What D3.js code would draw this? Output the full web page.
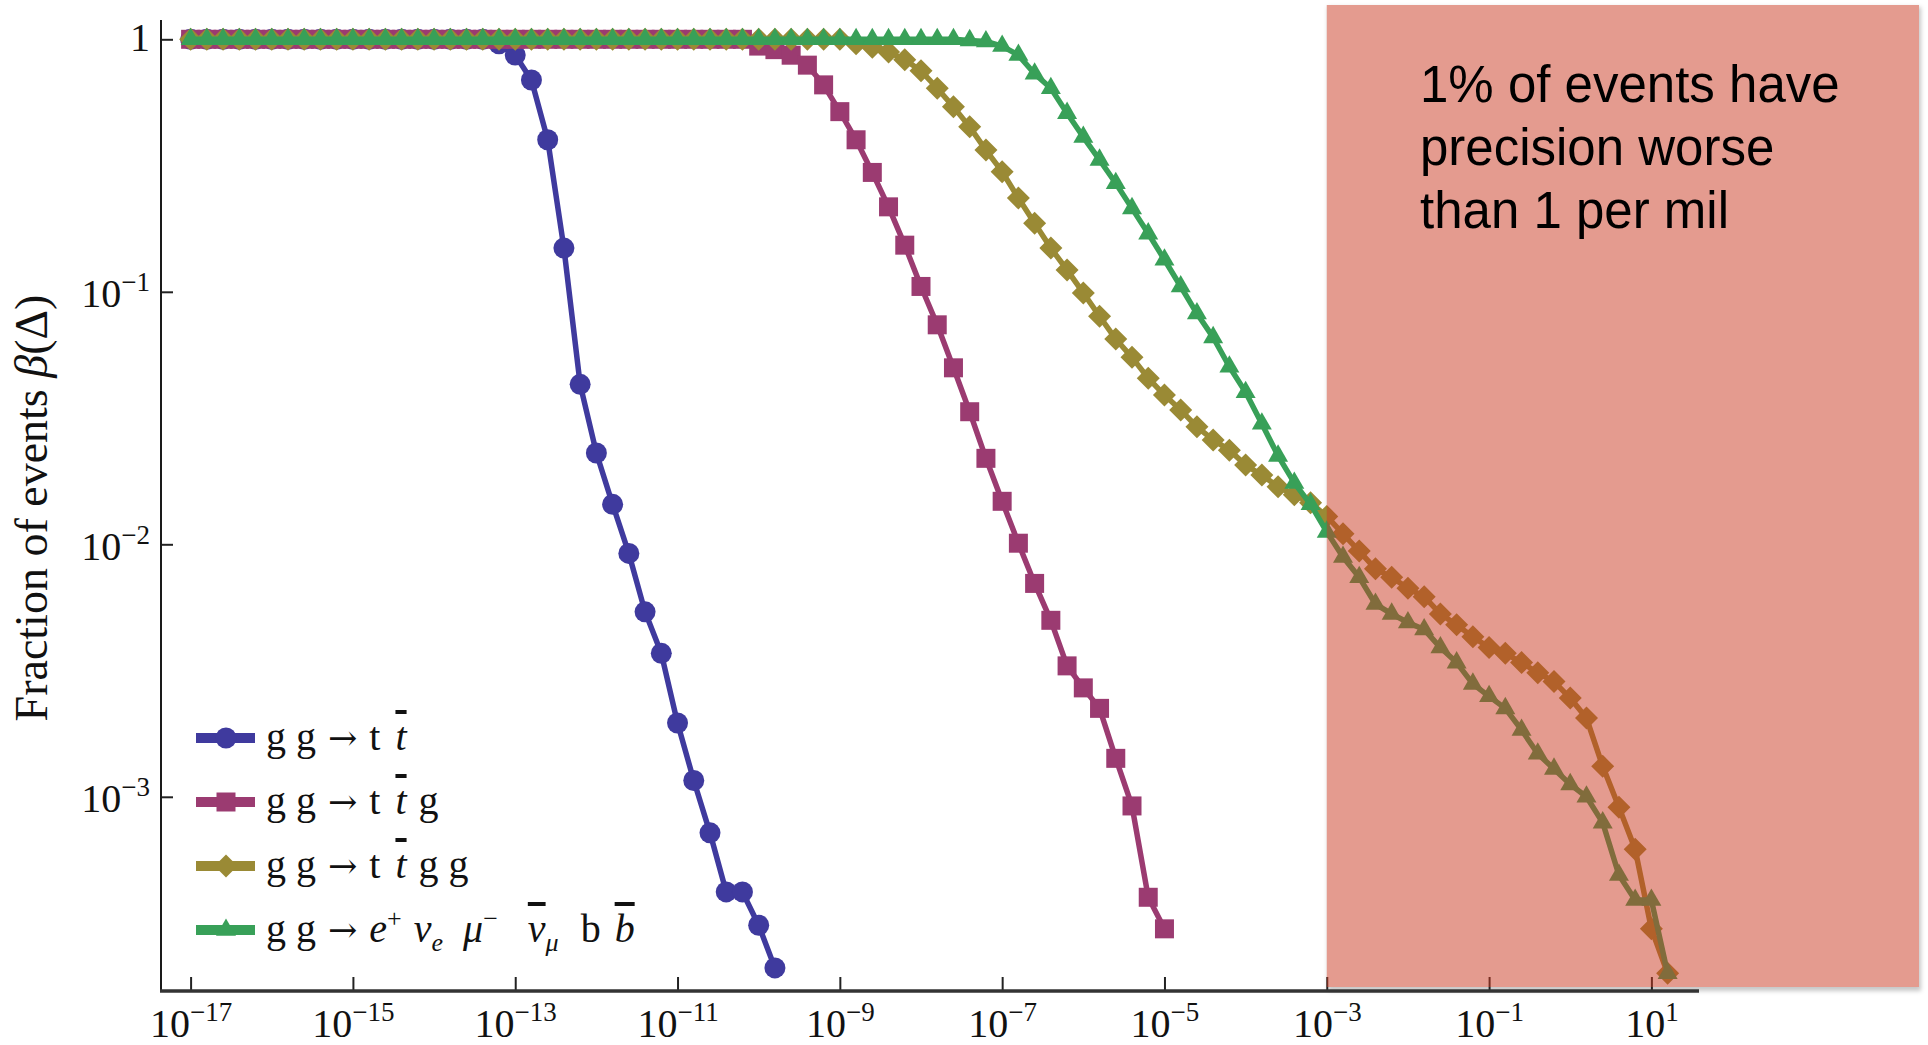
<!DOCTYPE html>
<html>
<head>
<meta charset="utf-8">
<script src="https://cdn.jsdelivr.net/npm/d3@7"></script>
<style>
  html, body { margin: 0; padding: 0; background: #ffffff; }
  svg { display: block; }
  text { white-space: pre; }
</style>
</head>
<body>
<svg id="chart" width="1928" height="1045"></svg>
<script>
// Precision bins: log10 of the relative precision Δ (one bin every 0.2 decades)
const binExponents = [
  -17.0,-16.8,-16.6,-16.4,-16.2,-16.0,-15.8,-15.6,-15.4,-15.2,
  -15.0,-14.8,-14.6,-14.4,-14.2,-14.0,-13.8,-13.6,-13.4,-13.2,
  -13.0,-12.8,-12.6,-12.4,-12.2,-12.0,-11.8,-11.6,-11.4,-11.2,
  -11.0,-10.8,-10.6,-10.4,-10.2,-10.0,-9.8,-9.6,-9.4,-9.2,
  -9.0,-8.8,-8.6,-8.4,-8.2,-8.0,-7.8,-7.6,-7.4,-7.2,
  -7.0,-6.8,-6.6,-6.4,-6.2,-6.0,-5.8,-5.6,-5.4,-5.2,
  -5.0,-4.8,-4.6,-4.4,-4.2,-4.0,-3.8,-3.6,-3.4,-3.2,
  -3.0,-2.8,-2.6,-2.4,-2.2,-2.0,-1.8,-1.6,-1.4,-1.2,
  -1.0,-0.8,-0.6,-0.4,-0.2,0.0,0.2,0.4,0.6,0.8,
  1.0,1.2
];

// Fraction of events β(Δ) with precision worse than Δ, per process
const fracTTbar = [
  1,1,1,1,1,1,1,1,1,1,
  1,1,1,1,1,1,1,1,1,0.96,
  0.866,0.69,0.40,0.149,0.043,0.023,0.0144,0.0092,0.0054,0.0037,
  0.00196,0.00116,0.00072,0.00042,0.00042,0.00031,0.00021
];
const fracTTbarG = [
  1,1,1,1,1,1,1,1,1,1,
  1,1,1,1,1,1,1,1,1,1,
  1,1,1,1,1,1,1,1,1,1,
  1,1,1,1,1,0.94,0.91,0.865,0.79,0.66,
  0.517,0.40,0.297,0.217,0.153,0.105,0.074,0.050,0.0335,0.0219,
  0.0148,0.0101,0.0070,0.0050,0.0033,0.0027,0.00224,0.00142,0.00092,0.00040,
  0.00030
];
const fracTTbarGG = [
  1,1,1,1,1,1,1,1,1,1,
  1,1,1,1,1,1,1,1,1,1,
  1,1,1,1,1,1,1,1,1,1,
  1,1,1,1,1,1,1,1,1,1,
  1,0.96,0.93,0.89,0.83,0.75,0.64,0.54,0.45,0.364,
  0.299,0.235,0.187,0.149,0.122,0.099,0.080,0.065,0.055,0.0455,
  0.039,0.034,0.0292,0.0259,0.0236,0.0206,0.0188,0.0169,0.0157,0.0146,
  0.0129,0.0110,0.0094,0.0080,0.0074,0.0067,0.0062,0.0053,0.0048,0.0043,
  0.0039,0.0037,0.0034,0.0031,0.00286,0.00246,0.00205,0.00132,0.00091,0.00062,
  0.00030,0.00020
];
const fracWWbb = [
  1,1,1,1,1,1,1,1,1,1,
  1,1,1,1,1,1,1,1,1,1,
  1,1,1,1,1,1,1,1,1,1,
  1,1,1,1,1,1,1,1,1,1,
  1,1,1,1,1,1,1,1,0.99,0.98,
  0.94,0.866,0.73,0.64,0.51,0.41,0.333,0.269,0.214,0.170,
  0.134,0.105,0.082,0.066,0.0505,0.040,0.030,0.0224,0.0175,0.0144,
  0.0112,0.0089,0.0074,0.0058,0.0053,0.0049,0.0046,0.0039,0.0034,0.0028,
  0.0025,0.00224,0.00184,0.00148,0.00129,0.00112,0.00100,0.00079,0.00049,0.00039,
  0.00039,0.00020
];

// Axis ticks (powers of ten)
const xTickExponents = [-17,-15,-13,-11,-9,-7,-5,-3,-1,1];
const yTickExponents = [0,-1,-2,-3];

// Legend labels, as runs of text: i = italic, bar = overbar, sup/sub = script,
// arrow = arrow glyph, gap = extra space before the run
const legendLabels = [
  [{t:"g g "},{t:"→",arrow:true,gap:2},{t:" t ",gap:2},{t:"t",i:true,bar:true,gap:5}],
  [{t:"g g "},{t:"→",arrow:true,gap:2},{t:" t ",gap:2},{t:"t",i:true,bar:true,gap:5},{t:" g",gap:2}],
  [{t:"g g "},{t:"→",arrow:true,gap:2},{t:" t ",gap:2},{t:"t",i:true,bar:true,gap:5},{t:" g g",gap:2}],
  [{t:"g g "},{t:"→",arrow:true,gap:2},{t:" ",gap:2},{t:"e",i:true},{t:"+",sup:true},{t:"ν",i:true,gap:12},{t:"e",i:true,sub:true},
   {t:"μ",i:true,gap:20},{t:"−",sup:true},{t:"ν",i:true,bar:true,gap:30},{t:"μ",i:true,sub:true},
   {t:"b",gap:22},{t:"b",i:true,bar:true,gap:14}]
];

// Shaded region note
const noteFromDelta = 1e-3;
const noteLines = ["1% of events have", "precision worse", "than 1 per mil"];

const series = [
  {values: fracTTbar,   color: "#3f3a9e", marker: "circle"},
  {values: fracTTbarG,  color: "#9b3b71", marker: "square"},
  {values: fracTTbarGG, color: "#9a8a35", marker: "diamond"},
  {values: fracWWbb,    color: "#38a058", marker: "triangle"}
];

const W = 1928, H = 1045;
const svg = d3.select("#chart");
const serif = "'Liberation Serif', 'Times New Roman', Times, serif";
const sans = "'Liberation Sans', Arial, Helvetica, sans-serif";

const x = d3.scaleLog().domain([1e-17, 1e1]).range([190.6, 1651.4]);
const y = d3.scaleLog().domain([1e-3, 1]).range([796.8, 39.3]);
const frame = {left: 161, right: 1699, top: 20, bottom: 991};

// shaded box geometry: starts at Δ = 1e-3 and runs to the right of the plot
const box = {x0: x(noteFromDelta), x1: 1919, y0: 5, y1: 987};

const defs = svg.append("defs");
defs.append("filter").attr("id", "soft")
  .attr("x", "-5%").attr("y", "-5%").attr("width", "110%").attr("height", "110%")
  .append("feGaussianBlur").attr("stdDeviation", 2);
defs.append("clipPath").attr("id", "outsideBox")
  .append("path")
  .attr("clip-rule", "evenodd")
  .attr("d", `M0,0H${W}V${H}H0Z M${box.x0},${box.y0}H${box.x1}V${box.y1}H${box.x0}Z`);

// marker path generators, centred on (0,0)
function markerPath(kind) {
  const p = d3.path();
  if (kind === "circle") {
    p.arc(0, 0, 10.5, 0, 2 * Math.PI);
  } else if (kind === "square") {
    p.rect(-9.5, -9.5, 19, 19);
  } else if (kind === "diamond") {
    p.moveTo(0, -11.5); p.lineTo(11.5, 0); p.lineTo(0, 11.5); p.lineTo(-11.5, 0); p.closePath();
  } else {
    const s = 20, h = s * Math.sqrt(3) / 2;
    p.moveTo(0, -h * 2 / 3); p.lineTo(s / 2, h / 3); p.lineTo(-s / 2, h / 3); p.closePath();
  }
  return p.toString();
}

// faint shadow under the shaded box (only visible around its edges)
svg.append("g").attr("clip-path", "url(#outsideBox)")
  .append("rect")
  .attr("x", box.x0 + 1).attr("y", box.y0 + 2)
  .attr("width", box.x1 - box.x0 + 1).attr("height", box.y1 - box.y0 + 2)
  .attr("fill", "#000").attr("fill-opacity", 0.22)
  .attr("filter", "url(#soft)");

// ---- axes ----
const gx = svg.append("g")
  .attr("transform", `translate(0,${frame.bottom})`)
  .call(d3.axisBottom(x)
    .tickValues(xTickExponents.map(e => Math.pow(10, e)))
    .tickSize(-14)
    .tickFormat(""));
gx.select(".domain").remove();
gx.selectAll(".tick line").attr("stroke", "#222").attr("stroke-width", 2);
gx.selectAll(".tick text").remove();
gx.selectAll(".tick").each(function(d) {
  const e = Math.round(Math.log10(d));
  const t = d3.select(this).append("text")
    .attr("x", 0).attr("y", 46)
    .attr("text-anchor", "middle")
    .attr("font-family", serif).attr("font-size", 40).attr("fill", "#111");
  t.append("tspan").text("10");
  t.append("tspan").attr("font-size", 27).attr("dy", -16).text(e < 0 ? "−" + (-e) : String(e));
});

const gy = svg.append("g")
  .attr("transform", `translate(${frame.left},0)`)
  .call(d3.axisLeft(y)
    .tickValues(yTickExponents.map(e => Math.pow(10, e)))
    .tickSize(-12)
    .tickFormat(""));
gy.select(".domain").remove();
gy.selectAll(".tick line").attr("stroke", "#222").attr("stroke-width", 2);
gy.selectAll(".tick text").remove();
gy.selectAll(".tick").each(function(d) {
  const e = Math.round(Math.log10(d));
  const t = d3.select(this).append("text")
    .attr("x", -11).attr("y", e === 0 ? 11 : 15)
    .attr("text-anchor", "end")
    .attr("font-family", serif).attr("font-size", 40).attr("fill", "#111");
  if (e === 0) {
    t.text("1");
  } else {
    t.append("tspan").text("10");
    t.append("tspan").attr("font-size", 27).attr("dy", -16).text("−" + (-e));
  }
});

// frame lines
svg.append("line")
  .attr("x1", frame.left).attr("x2", frame.left)
  .attr("y1", frame.top).attr("y2", frame.bottom)
  .attr("stroke", "#1a1a1a").attr("stroke-width", 2);
svg.append("line")
  .attr("x1", frame.left - 1).attr("x2", frame.right)
  .attr("y1", frame.bottom).attr("y2", frame.bottom)
  .attr("stroke", "#333").attr("stroke-width", 3.5);

// y-axis title
const yTitle = svg.append("text")
  .attr("transform", "translate(47,508) rotate(-90)")
  .attr("text-anchor", "middle")
  .attr("font-family", serif).attr("font-size", 46).attr("fill", "#111");
yTitle.append("tspan").text("Fraction of events ");
yTitle.append("tspan").attr("font-style", "italic").text("β");
yTitle.append("tspan").text("(Δ)");

// ---- series ----
const line = d3.line()
  .x(d => x(Math.pow(10, d[0])))
  .y(d => y(d[1]));

const plot = svg.append("g");
series.forEach(s => {
  const pts = s.values.map((v, i) => [binExponents[i], v]);
  const g = plot.append("g");
  g.append("path")
    .attr("d", line(pts))
    .attr("fill", "none")
    .attr("stroke", s.color)
    .attr("stroke-width", 5.5)
    .attr("stroke-linejoin", "round");
  g.selectAll("path.mk").data(pts).join("path")
    .attr("class", "mk")
    .attr("d", markerPath(s.marker))
    .attr("transform", d => `translate(${x(Math.pow(10, d[0]))},${y(d[1])})`)
    .attr("fill", s.color);
});

// ---- legend ----
const legend = svg.append("g");
series.forEach((s, k) => {
  const cy = 738 + k * 64;
  const row = legend.append("g").attr("transform", `translate(0,${cy})`);
  row.append("rect").attr("x", 196).attr("y", -5).attr("width", 59).attr("height", 10).attr("fill", s.color);
  row.append("path").attr("d", markerPath(s.marker)).attr("transform", "translate(226,0)").attr("fill", s.color);
  const t = row.append("text")
    .attr("x", 266).attr("y", 12)
    .attr("font-family", serif).attr("font-size", 40).attr("fill", "#111");
  let shift = 0;
  legendLabels[k].forEach(seg => {
    const target = seg.sup ? 15 : seg.sub ? -9 : 0;
    const ts = t.append("tspan").text(seg.t);
    if (target !== shift) ts.attr("dy", shift - target);
    shift = target;
    if (seg.gap) ts.attr("dx", seg.gap);
    if (seg.sup || seg.sub) ts.attr("font-size", 26);
    if (seg.i) ts.attr("font-style", "italic");
    if (seg.bar) ts.style("text-decoration", "overline");
    if (seg.arrow) ts.attr("font-family", "'DejaVu Serif', serif").attr("font-size", 35);
  });
});

// ---- shaded region with note ----
svg.append("rect")
  .attr("x", box.x0).attr("y", box.y0)
  .attr("width", box.x1 - box.x0).attr("height", box.y1 - box.y0)
  .attr("fill", "rgb(201,55,31)")
  .attr("fill-opacity", 0.5);

const note = svg.append("text")
  .attr("font-family", sans).attr("font-size", 51).attr("fill", "#000");
noteLines.forEach((ln, i) => {
  note.append("tspan").attr("x", 1420).attr("y", 102 + i * 63).text(ln);
});
</script>
</body>
</html>
